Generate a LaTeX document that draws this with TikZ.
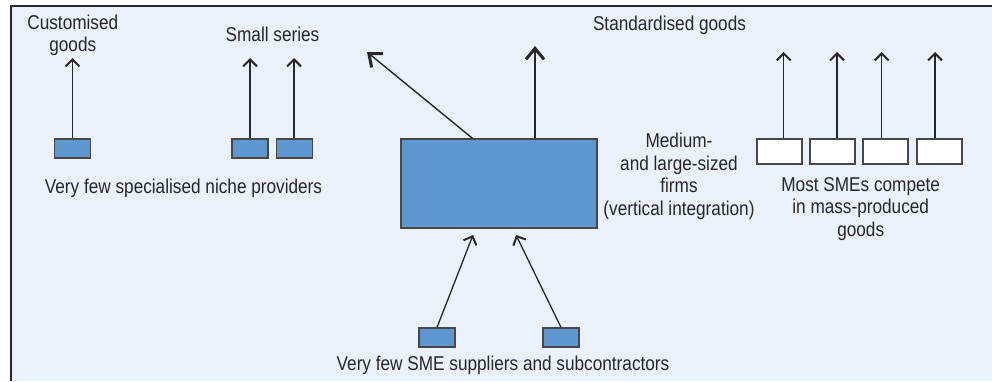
\documentclass[tikz,border=0pt]{standalone}
\usepackage{fontspec}
\setmainfont[FakeStretch=0.86]{Liberation Sans}
\usetikzlibrary{arrows.meta}
\definecolor{bgblue}{RGB}{234,241,250}
\definecolor{boxblue}{RGB}{94,151,207}
\definecolor{ink}{RGB}{40,38,40}
\begin{document}
\begin{tikzpicture}[x=1pt,y=-1pt,
  txt/.style={inner sep=0pt,text=ink,font=\fontsize{20}{22.5}\selectfont,align=center},
  bluebox/.style={draw=ink!85,line width=1.3pt,fill=boxblue,inner sep=0pt,minimum width=36pt,minimum height=19pt},
  whitebox/.style={draw=ink!85,line width=1.3pt,fill=white,inner sep=0pt,minimum width=45pt,minimum height=25pt},
  smallarr/.style={draw=ink,line width=1.3pt,-{Straight Barb[length=7pt,width=14pt,line width=2pt]}},
  bigarr/.style={draw=ink,line width=1.4pt,-{Straight Barb[length=11pt,width=18pt,line width=3pt]}}
]
\useasboundingbox (0,0) rectangle (992,381);
\fill[bgblue] (11,6) rectangle (992,381);
\draw[ink,line width=2pt] (11,381) -- (11,6) -- (992,6);

% left: niche providers
\node[bluebox] (b1) at (72.5,148.5) {};
\node[bluebox] (b2) at (250,148.5) {};
\node[bluebox] (b3) at (294.5,148.5) {};
\node[txt] (custom) at (72.8,35.5) {Customised\\goods};
\node[txt,anchor=base] (small) at (272.5,41.5) {Small series};
\node[txt,anchor=base] (niche) at (183.5,193.5) {Very few specialised niche providers};
\coordinate (t1) at (72.5,58);
\coordinate (t2) at (250,58);
\coordinate (t3) at (294,58);
\draw[smallarr] (b1.north -| t1) -- (t1);
\draw[smallarr] (b2.north -| t2) -- (t2);
\draw[smallarr] (b3.north -| t3) -- (t3);

% centre: medium and large firms
\node[draw=ink!85,line width=1.3pt,fill=boxblue,inner sep=0pt,minimum width=196pt,minimum height=89pt] (big) at (499,183.5) {};
\node[txt,anchor=base] (std) at (669.5,30.5) {Standardised goods};
\node[txt] (firms) at (679,176.5) {Medium-\\and large-sized\\firms\\(vertical integration)};
\coordinate (diagsrc) at (472.5,139);
\coordinate (diagtip) at (367,52);
\coordinate (vtip) at (535,46);
\draw[bigarr] (big.north -| diagsrc) -- (diagtip);
\draw[bigarr] (big.north -| vtip) -- (vtip);

% bottom: suppliers
\node[bluebox] (s1) at (437,337.5) {};
\node[bluebox] (s2) at (561,337.5) {};
\node[txt,anchor=base] (supp) at (503,370) {Very few SME suppliers and subcontractors};
\coordinate (st1) at (473,235);
\coordinate (st2) at (516,235);
\draw[smallarr] (s1.north) -- (st1);
\draw[smallarr] (s2.north) -- (st2);

% right: mass-produced goods
\node[whitebox] (r1) at (779.5,151.5) {};
\node[whitebox] (r2) at (832.5,151.5) {};
\node[whitebox] (r3) at (885.5,151.5) {};
\node[whitebox] (r4) at (939.5,151.5) {};
\node[txt] (mass) at (860.7,209) {Most SMEs compete\\in mass-produced\\goods};
\coordinate (u1) at (783.7,52);
\coordinate (u2) at (837,52);
\coordinate (u3) at (881.7,52);
\coordinate (u4) at (935,52);
\draw[smallarr] (r1.north -| u1) -- (u1);
\draw[smallarr] (r2.north -| u2) -- (u2);
\draw[smallarr] (r3.north -| u3) -- (u3);
\draw[smallarr] (r4.north -| u4) -- (u4);
\end{tikzpicture}
\end{document}
